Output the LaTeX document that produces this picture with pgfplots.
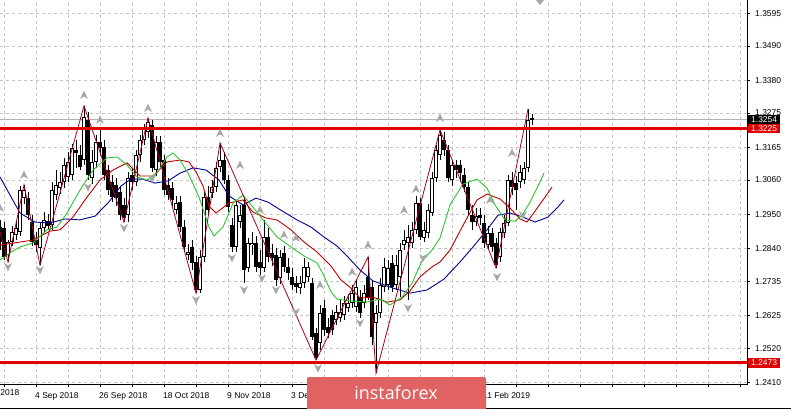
\documentclass[border=0pt]{standalone}
\usepackage{fontspec}
\setmainfont{Liberation Sans}
\newfontfamily\logofont{Open Sans}
\usepackage{pgfplots}
\usepackage{pgfplotstable}
\pgfplotsset{compat=1.18}

\definecolor{gridc}{HTML}{C4C4C4}
\definecolor{jawblue}{HTML}{000090}
\definecolor{teethred}{HTML}{C00000}
\definecolor{lipsgreen}{HTML}{2FC42F}
\definecolor{zigred}{HTML}{A8001C}
\definecolor{levelred}{HTML}{E00000}
\definecolor{logored}{HTML}{E06262}
\definecolor{fractal}{HTML}{A8A8A8}

\newcommand\tickfont{\fontsize{8.5}{10}\selectfont}

\pgfdeclareplotmark{fup}{%
  \pgfpathmoveto{\pgfpoint{0bp}{4.5bp}}%
  \pgfpathlineto{\pgfpoint{4bp}{-4bp}}%
  \pgfpathlineto{\pgfpoint{0bp}{-1.5bp}}%
  \pgfpathlineto{\pgfpoint{-4bp}{-4bp}}%
  \pgfpathclose\pgfusepath{fill}}
\pgfdeclareplotmark{fdown}{%
  \pgfpathmoveto{\pgfpoint{0bp}{-4.5bp}}%
  \pgfpathlineto{\pgfpoint{4bp}{4bp}}%
  \pgfpathlineto{\pgfpoint{0bp}{1.5bp}}%
  \pgfpathlineto{\pgfpoint{-4bp}{4bp}}%
  \pgfpathclose\pgfusepath{fill}}

% daily candles: bar position, open, high, low, close
\pgfplotstableread{
b o h l c
0 1.2909 1.2932 1.2835 1.2861
1 1.2906 1.2925 1.2803 1.2813
2 1.2819 1.2867 1.2797 1.2861
3 1.2861 1.2912 1.2848 1.2893
4 1.2884 1.2932 1.2867 1.2906
5 1.2893 1.3041 1.2880 1.3028
6 1.3002 1.3044 1.2983 1.3028
7 1.3002 1.3021 1.2932 1.2947
8 1.2925 1.2947 1.2848 1.2861
9 1.2867 1.2893 1.2829 1.2851
10 1.2842 1.2925 1.2787 1.2906
11 1.2906 1.2957 1.2893 1.2932
12 1.2928 1.2951 1.2900 1.2912
13 1.2916 1.3054 1.2900 1.3028
14 1.3012 1.3092 1.2996 1.3044
15 1.3034 1.3086 1.3015 1.3054
16 1.3054 1.3131 1.3034 1.3108
17 1.3070 1.3150 1.3054 1.3118
18 1.3076 1.3176 1.3060 1.3163
19 1.3156 1.3188 1.3099 1.3147
20 1.3140 1.3172 1.3092 1.3102
21 1.3124 1.3298 1.3108 1.3262
22 1.3253 1.3278 1.3060 1.3076
23 1.3066 1.3156 1.3047 1.3118
24 1.3118 1.3204 1.3099 1.3182
25 1.3182 1.3221 1.3137 1.3163
26 1.3166 1.3188 1.3060 1.3076
27 1.3092 1.3108 1.3012 1.3028
28 1.3054 1.3076 1.2989 1.3005
29 1.3044 1.3066 1.2976 1.3002
30 1.3021 1.3041 1.2932 1.2947
31 1.2980 1.3002 1.2925 1.2938
32 1.2947 1.3086 1.2925 1.3066
33 1.3076 1.3099 1.3028 1.3054
34 1.3054 1.3156 1.3041 1.3140
35 1.3140 1.3204 1.3118 1.3188
36 1.3188 1.3240 1.3172 1.3227
37 1.3214 1.3259 1.3195 1.3246
38 1.3237 1.3253 1.3086 1.3099
39 1.3092 1.3201 1.3073 1.3182
40 1.3182 1.3201 1.3099 1.3118
41 1.3124 1.3140 1.3012 1.3028
42 1.3044 1.3066 1.2996 1.3012
43 1.3034 1.3054 1.2976 1.2996
44 1.2964 1.3009 1.2951 1.2986
45 1.2989 1.3009 1.2893 1.2909
46 1.2909 1.2932 1.2829 1.2845
47 1.2819 1.2855 1.2803 1.2829
48 1.2845 1.2867 1.2771 1.2794
49 1.2797 1.2816 1.2697 1.2707
50 1.2707 1.2835 1.2697 1.2813
51 1.2813 1.3021 1.2797 1.3005
52 1.3005 1.3041 1.2951 1.2964
53 1.3018 1.3060 1.3002 1.3037
54 1.3037 1.3118 1.3021 1.3099
55 1.3102 1.3179 1.3086 1.3124
56 1.3124 1.3150 1.3047 1.3060
57 1.3060 1.3076 1.2957 1.2973
58 1.2916 1.2938 1.2829 1.2845
59 1.2845 1.2996 1.2829 1.2980
60 1.2925 1.2980 1.2906 1.2947
61 1.2980 1.3002 1.2729 1.2771
62 1.2778 1.2874 1.2765 1.2858
63 1.2851 1.2893 1.2819 1.2858
64 1.2858 1.2880 1.2765 1.2781
65 1.2797 1.2835 1.2755 1.2778
66 1.2778 1.2932 1.2765 1.2877
67 1.2877 1.2906 1.2797 1.2813
68 1.2826 1.2855 1.2784 1.2810
69 1.2819 1.2842 1.2720 1.2739
70 1.2745 1.2835 1.2726 1.2813
71 1.2826 1.2848 1.2765 1.2781
72 1.2781 1.2810 1.2739 1.2761
73 1.2749 1.2778 1.2707 1.2723
74 1.2729 1.2752 1.2697 1.2717
75 1.2713 1.2752 1.2694 1.2729
76 1.2729 1.2810 1.2713 1.2781
77 1.2749 1.2797 1.2733 1.2781
78 1.2729 1.2745 1.2546 1.2556
79 1.2569 1.2585 1.2482 1.2489
80 1.2537 1.2659 1.2514 1.2633
81 1.2649 1.2675 1.2559 1.2579
82 1.2588 1.2617 1.2553 1.2569
83 1.2627 1.2643 1.2562 1.2579
84 1.2611 1.2659 1.2595 1.2636
85 1.2617 1.2675 1.2604 1.2636
86 1.2627 1.2688 1.2611 1.2665
87 1.2649 1.2694 1.2636 1.2665
88 1.2665 1.2723 1.2649 1.2697
89 1.2652 1.2739 1.2636 1.2717
90 1.2684 1.2707 1.2617 1.2633
91 1.2665 1.2723 1.2649 1.2697
92 1.2749 1.2813 1.2675 1.2684
93 1.2717 1.2739 1.2531 1.2556
94 1.2601 1.2659 1.2440 1.2633
95 1.2633 1.2745 1.2617 1.2723
96 1.2717 1.2810 1.2701 1.2781
97 1.2723 1.2803 1.2707 1.2778
98 1.2794 1.2819 1.2701 1.2717
99 1.2723 1.2819 1.2707 1.2787
100 1.2749 1.2858 1.2684 1.2835
101 1.2851 1.2900 1.2835 1.2867
102 1.2858 1.2916 1.2675 1.2877
103 1.2858 1.2925 1.2842 1.2900
104 1.2900 1.3009 1.2887 1.2986
105 1.2986 1.3002 1.2867 1.2877
106 1.2874 1.2925 1.2861 1.2900
107 1.2890 1.2983 1.2874 1.2964
108 1.2954 1.3086 1.2944 1.3066
109 1.3066 1.3172 1.3054 1.3156
110 1.3140 1.3221 1.3124 1.3205
111 1.3188 1.3214 1.3137 1.3156
112 1.3156 1.3172 1.3054 1.3066
113 1.3060 1.3124 1.3041 1.3108
114 1.3108 1.3124 1.3066 1.3092
115 1.3108 1.3124 1.3054 1.3082
116 1.3076 1.3099 1.3021 1.3037
117 1.3037 1.3054 1.2944 1.2964
118 1.2947 1.2980 1.2900 1.2925
119 1.2925 1.2970 1.2912 1.2944
120 1.2947 1.2970 1.2916 1.2938
121 1.2922 1.2947 1.2842 1.2858
122 1.2851 1.2912 1.2835 1.2890
123 1.2890 1.2906 1.2829 1.2845
124 1.2858 1.2874 1.2778 1.2787
125 1.2813 1.2906 1.2797 1.2893
126 1.2890 1.2947 1.2874 1.2922
127 1.2922 1.3076 1.2912 1.3060
128 1.3060 1.3086 1.3012 1.3037
129 1.3050 1.3073 1.2964 1.3028
130 1.3054 1.3108 1.3034 1.3086
131 1.3060 1.3118 1.3047 1.3099
132 1.3099 1.3288 1.3086 1.3253
133 1.3257 1.3272 1.3237 1.3254
}\candles

\begin{document}
\begin{tikzpicture}
\useasboundingbox (0,0) rectangle (791bp,-409bp);
\begin{axis}[
  at={(0,0)}, anchor=north west,
  scale only axis, width=747bp, height=384bp,
  xmin=0, xmax=186.75, ymin=1.24052, ymax=1.36378,
  axis line style={draw=none},
  grid=major,
  major grid style={gridc, dash pattern=on 3bp off 3bp, line width=0.7bp},
  xtick={1,9,...,185},
  xticklabels={,4 Sep 2018,,26 Sep 2018,,18 Oct 2018,,9 Nov 2018,,3 Dec 2018,,,,,,11 Feb 2019},
  xtick pos=left, ytick pos=right, yticklabel pos=right,
  ytick={1.2410,1.2520,1.2625,1.2735,1.2840,1.2950,1.3060,1.3165,1.3275,1.3380,1.3490,1.3595},
  scaled y ticks=false,
  yticklabel style={/pgf/number format/fixed, /pgf/number format/fixed zerofill, /pgf/number format/precision=4, /pgf/number format/assume math mode=true},
  ticklabel style={font=\tickfont, text=black},
  xticklabel style={anchor=north west, inner sep=0pt, xshift=-1bp, yshift=-5bp},
  yticklabel style={anchor=west, inner sep=0pt, xshift=5bp},
  tick align=outside, major tick length=3bp,
  tick style={black, line width=0.8bp},
]
% bid line
\addplot[black!30, line width=0.8bp] coordinates {(0,1.3254) (186.75,1.3254)};
% wicks
\addplot[draw=none, mark=none, error bars/.cd, y dir=plus, y explicit, error mark=none,
  error bar style={draw=black, solid, line width=1bp}]
  table[x=b, y=l, y error plus expr={\thisrow{h}-\thisrow{l}}] {\candles};
% bodies
\addplot[draw=none, mark=none, error bars/.cd, y dir=plus, y explicit, error mark=none,
  error bar style={draw=black, solid, line width=3.6bp}]
  table[x=b, y expr={min(\thisrow{o},\thisrow{c})}, y error plus expr={max(abs(\thisrow{c}-\thisrow{o}),0.00035)}] {\candles};
\addplot[draw=none, mark=none, error bars/.cd, y dir=plus, y explicit, error mark=none,
  error bar style={draw=white, solid, line width=1.6bp}]
  table[x=b, y expr={\thisrow{o}+0.00032}, y error plus expr={(\thisrow{c}>\thisrow{o})*max(\thisrow{c}-\thisrow{o}-0.00064,0)}] {\candles};
% Alligator jaw
\addplot[jawblue, line width=0.9bp] coordinates {
(0,1.3070) (2.5,1.3012) (5,1.2954) (8.75,1.2925) (12.5,1.2922) (16.25,1.2935) (20,1.2932) (23.75,1.2944)
(27,1.2986) (30.25,1.3041) (32.75,1.3063) (35.75,1.3063) (38.75,1.3050) (42,1.3057) (45,1.3082) (48.25,1.3099)
(51.5,1.3092) (54.75,1.3060) (57.25,1.3009) (60.75,1.2980) (64,1.3002) (67,1.2989) (71,1.2957) (74.25,1.2932)
(77.75,1.2909) (81,1.2877) (84.25,1.2848) (86.75,1.2816) (90,1.2771) (93.25,1.2736) (98.25,1.2713) (102.5,1.2697)
(106.75,1.2707) (111,1.2742) (115,1.2797) (118.25,1.2845) (121.75,1.2900) (124.5,1.2947) (127.5,1.2954)
(130.75,1.2941) (133.75,1.2925) (137,1.2941) (139.25,1.2970) (141,1.2996)};
% Alligator teeth
\addplot[teethred, line width=0.9bp] coordinates {
(0,1.2851) (5,1.2861) (8.25,1.2867) (12.5,1.2896) (15,1.2900) (18.25,1.2941) (21.75,1.3005) (25,1.3060)
(28.25,1.3092) (31.75,1.3115) (35,1.3073) (38.25,1.3073) (41.75,1.3118) (45,1.3124) (47.25,1.3118) (49,1.3086)
(50.75,1.3041) (52.25,1.2976) (54,1.2954) (57.25,1.2986) (60.75,1.2996) (63.25,1.2957) (66.5,1.2938) (69.25,1.2932)
(72.75,1.2900) (76,1.2861) (79.25,1.2829) (82.75,1.2784) (85.25,1.2739) (87.75,1.2713) (90,1.2681) (93.25,1.2684)
(96.75,1.2668) (100,1.2675) (102.5,1.2704) (105,1.2749) (108,1.2781) (110,1.2797) (112.5,1.2835) (114.5,1.2884)
(116.75,1.2938) (119.25,1.2996) (121.75,1.3015) (125,1.2999) (127.5,1.2970) (130,1.2935) (131.75,1.2925)
(133.25,1.2951) (135.75,1.2996) (138,1.3037)};
% Alligator lips
\addplot[lipsgreen, line width=0.9bp] coordinates {
(0,1.2803) (2.5,1.2826) (5,1.2845) (8.25,1.2858) (11.75,1.2900) (14.25,1.2909) (16.75,1.2954) (20,1.3028)
(23.25,1.3092) (26.75,1.3131) (29.25,1.3134) (31.75,1.3108) (34.25,1.3070) (36.75,1.3060) (39.25,1.3082)
(41.75,1.3134) (43.25,1.3147) (45,1.3124) (47.25,1.3076) (49.75,1.3005) (52.25,1.2909) (53.5,1.2880)
(55.75,1.2909) (58.25,1.2986) (60.75,1.3012) (63.25,1.2973) (66,1.2928) (69.25,1.2877) (72.75,1.2845)
(76,1.2816) (79.25,1.2794) (81,1.2752) (82.75,1.2701) (84.25,1.2678) (87.5,1.2672) (91.75,1.2668) (95,1.2678)
(97.5,1.2659) (100.5,1.2684) (103,1.2729) (105.5,1.2800) (108,1.2835) (110,1.2874) (112.5,1.2980)
(115.75,1.3047) (119.25,1.3063) (121.75,1.3034) (123.75,1.2980) (126.25,1.2932) (128.75,1.2928) (130.5,1.2947)
(132.5,1.2989) (134.25,1.3034) (136,1.3082)};
% ZigZag
\addplot[zigred, line width=0.8bp] coordinates {
(0,1.2893) (2,1.2797) (6,1.3044) (10,1.2787) (21,1.3298) (31,1.2925) (37,1.3259) (49,1.2697) (55,1.3179)
(79,1.2482) (92,1.2813) (94,1.2440) (110,1.3221) (124,1.2778) (132,1.3288)};
% Fractals
\addplot[only marks, mark=fup, fill=fractal, draw=none] coordinates {
(0,1.2970) (6,1.3076) (21,1.3333) (25,1.3253) (37,1.3291) (55,1.3211) (60,1.3108) (65,1.2964) (71,1.2884)
(74,1.2874) (80,1.2723) (88,1.2765) (92,1.2851) (101,1.2964) (104,1.3031) (110,1.3259) (122.5,1.2996) (128,1.3147)};
\addplot[only marks, mark=fdown, fill=fractal, draw=none] coordinates {
(2,1.2781) (10,1.2771) (22,1.3037) (31,1.2906) (38,1.3063) (49,1.2675) (58,1.2810) (61,1.2707) (65.5,1.2745)
(69,1.2707) (74,1.2636) (79.5,1.2456) (90,1.2601) (102,1.2649) (105.75,1.2810) (124.25,1.2749) (130.75,1.2947)};
% support / resistance levels
\addplot[levelred, line width=3bp] coordinates {(0,1.3225) (186.75,1.3225)};
\addplot[levelred, line width=3bp] coordinates {(0,1.2473) (186.75,1.2473)};
\coordinate (bidR) at (axis cs:186.75,1.3254);
\coordinate (resR) at (axis cs:186.75,1.3225);
\coordinate (supR) at (axis cs:186.75,1.2473);
\end{axis}
% frame
\draw[black, line width=1bp] (0,-384bp) -- (747bp,-384bp) -- (747bp,0);
\draw[black, line width=1bp] (0,-408.5bp) -- (791bp,-408.5bp);
% chart shift marker
\fill[fractal] (536bp,0) -- (544bp,0) -- (540bp,-5bp) -- cycle;
% first, mostly hidden date label
\node[anchor=north west, inner sep=0pt, font=\tickfont] at (-29bp,-389bp) {13 Aug 2018};
% price labels
\node[fill=black, text=white, anchor=west, inner xsep=3bp, inner ysep=1.8bp, font=\tickfont] at ([xshift=1bp]bidR) {1.3254};
\node[fill=levelred, text=white, anchor=west, inner xsep=3bp, inner ysep=1.8bp, font=\tickfont] at ([xshift=1bp]resR) {1.3225};
\node[fill=levelred, text=white, anchor=west, inner xsep=3bp, inner ysep=1.8bp, font=\tickfont] at ([xshift=1bp]supR) {1.2473};
% logo
\fill[logored, rounded corners=2bp] (307bp,-377bp) rectangle (486bp,-412bp);
\node[text=white, anchor=base, inner sep=0pt, font=\logofont\fontsize{18}{20}\selectfont] at (396bp,-399bp) {instaforex};
\end{tikzpicture}
\end{document}
